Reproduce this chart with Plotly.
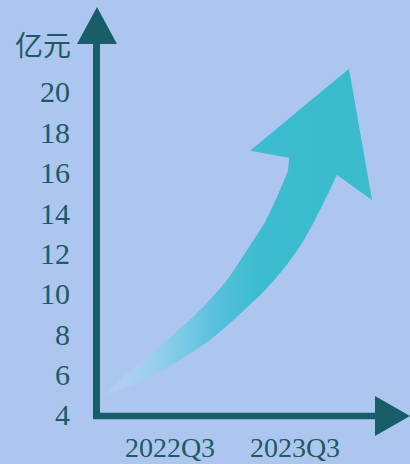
import plotly.graph_objects as go

# ---- data ----
categories = ["2022Q3", "2023Q3"]
category_pos = [0, 1]
y_ticks = [4, 6, 8, 10, 12, 14, 16, 18, 20]
y_unit = "亿元"

# growth arrow (x in category units, y in 亿元): curved shaft + head
shaft_x = [-0.496, -0.40, -0.24, -0.024, 0.24, 0.456, 0.616, 0.76, 0.88, 0.944,
           0.976, 1.384, 1.336, 1.272, 1.168, 1.056, 0.92, 0.776, 0.56, 0.32,
           0.024, -0.216, -0.40, -0.496]
shaft_y = [5.09, 5.73, 6.58, 7.71, 9.20, 10.69, 12.17, 13.56, 15.14, 16.13,
           17.13, 16.38, 15.89, 15.05, 13.76, 12.52, 11.33, 10.29, 9.00, 7.71,
           6.53, 5.73, 5.24, 5.09]
head_x = [0.96, 0.64, 1.432, 1.616, 1.336, 0.96]
head_y = [16.73, 17.08, 21.14, 14.65, 15.89, 16.73]

W, H = 410, 464
BG = "#adc6f0"
AXC = "#175e69"
TXT = "#1f5a60"
FONT = "Liberation Serif"

grad = dict(
    type="horizontal", start=min(shaft_x), stop=max(head_x),
    colorscale=[[0.0, "rgba(185,218,245,0.35)"],
                [0.22, "rgb(140,205,234)"],
                [0.42, "rgb(84,192,220)"],
                [0.58, "rgb(60,188,206)"],
                [1.0, "rgb(58,188,204)"]])

fig = go.Figure()
fig.add_trace(go.Scatter(
    x=shaft_x, y=shaft_y, mode="lines", fill="toself",
    line=dict(width=0, color="rgba(0,0,0,0)", shape="spline", smoothing=0.8),
    fillgradient=grad, hoverinfo="skip", showlegend=False))
fig.add_trace(go.Scatter(
    x=head_x, y=head_y, mode="lines", fill="toself",
    line=dict(width=0, color="rgba(0,0,0,0)"),
    fillgradient=grad, hoverinfo="skip", showlegend=False))

def px(x):
    return x / W

def py(y):
    return 1 - y / H

shapes = [
    # vertical axis
    dict(type="line", xref="paper", yref="paper", x0=px(96.5), x1=px(96.5),
         y0=py(419), y1=py(40), line=dict(color=AXC, width=7)),
    dict(type="path", xref="paper", yref="paper",
         path=f"M {px(77)},{py(44)} L {px(117)},{py(44)} L {px(97)},{py(7)} Z",
         fillcolor=AXC, line=dict(width=0)),
    # horizontal axis
    dict(type="line", xref="paper", yref="paper", x0=px(93), x1=px(378),
         y0=py(416), y1=py(416), line=dict(color=AXC, width=6.5)),
    dict(type="path", xref="paper", yref="paper",
         path=f"M {px(375)},{py(396)} L {px(375)},{py(436)} L {px(410)},{py(416)} Z",
         fillcolor=AXC, line=dict(width=0)),
]

fig.update_layout(
    width=W, height=H,
    margin=dict(l=0, r=0, t=0, b=0),
    paper_bgcolor=BG, plot_bgcolor=BG,
    showlegend=False,
    shapes=shapes,
    annotations=[dict(text=y_unit, xref="paper", yref="paper",
                      x=px(43), y=py(44), showarrow=False,
                      font=dict(family="Noto Sans CJK SC", size=28, color=TXT),
                      xanchor="center", yanchor="middle")],
    xaxis=dict(domain=[97 / W, 1], range=[-0.584, 1.92],
               tickvals=category_pos, ticktext=categories,
               ticks="outside", ticklen=6, tickcolor="rgba(0,0,0,0)",
               showgrid=False, zeroline=False, showline=False, automargin=False,
               tickfont=dict(family=FONT, size=28, color=TXT)),
    yaxis=dict(domain=[48 / H, 1], range=[3.95, 24.55],
               tickvals=y_ticks, ticktext=[str(v) for v in y_ticks],
               ticks="outside", ticklen=20, tickcolor="rgba(0,0,0,0)",
               showgrid=False, zeroline=False, showline=False, automargin=False,
               tickfont=dict(family=FONT, size=30, color=TXT)),
)

fig.write_html("out.html", config={"displayModeBar": False},
               post_script="document.body.style.margin='0';document.body.style.background='" + BG + "';")
